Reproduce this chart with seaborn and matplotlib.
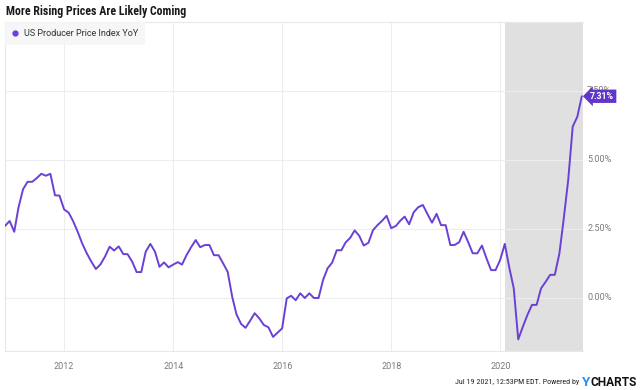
import numpy as np
import pandas as pd
import matplotlib
matplotlib.use("Agg")
import matplotlib.pyplot as plt
import matplotlib.transforms as mtransforms
from matplotlib.lines import Line2D
import seaborn as sns

# ---------------- data ----------------
title = "More Rising Prices Are Likely Coming"
series_name = "US Producer Price Index YoY"
first_month_end = "2010-11-30"
ppi_yoy = [
    2.61, 2.79, 2.40, 3.27, 3.94, 4.21, 4.21, 4.34, 4.50, 4.43, 4.50, 3.72,
    3.71, 3.21, 3.09, 2.79, 2.40, 1.98, 1.62, 1.32, 1.05, 1.22, 1.50, 1.86,
    1.72, 1.87, 1.59, 1.59, 1.32, 0.94, 0.94, 1.68, 1.96, 1.68, 1.13, 1.29,
    1.11, 1.21, 1.30, 1.21, 1.56, 1.84, 2.10, 1.84, 1.92, 1.92, 1.55, 1.55,
    1.26, 0.95, 0.03, -0.59, -0.94, -1.08, -0.82, -0.55, -0.74, -0.98, -1.06, -1.41,
    -1.26, -1.10, -0.01, 0.08, -0.08, 0.17, 0.00, 0.17, 0.00, 0.00, 0.65, 1.08,
    1.28, 1.73, 1.73, 2.01, 2.18, 2.45, 2.25, 1.90, 2.00, 2.46, 2.64, 2.80,
    2.98, 2.53, 2.61, 2.79, 2.95, 2.67, 3.11, 3.29, 3.37, 3.04, 2.73, 3.05,
    2.64, 2.64, 1.92, 1.92, 2.02, 2.40, 2.02, 1.62, 1.62, 1.90, 1.44, 1.01,
    1.01, 1.38, 1.96, 1.13, 0.35, -1.50, -1.04, -0.62, -0.25, -0.25, 0.35, 0.59,
    0.84, 0.84, 1.62, 2.83, 4.28, 6.21, 6.57, 7.31,
]
y_ticks = [0.0, 2.5, 5.0, 7.5]
y_tick_labels = ["0.00%", "2.50%", "5.00%", "7.50%"]
x_tick_years = [2012, 2014, 2016, 2018, 2020]
shade_start = "2020-02-01"
last_label = "7.31%"
footer = "Jul 19 2021, 12:53PM EDT. Powered by "

dates = pd.date_range(start=first_month_end, periods=len(ppi_yoy), freq="ME")
df = pd.DataFrame({"date": dates, "value": ppi_yoy})

# ---------------- style ----------------
sns.set_theme(style="white")
plt.rcParams["font.family"] = ["Roboto", "DejaVu Sans"]

LINE = "#6b40d6"
BADGE = "#6236c9"
GRID = "#ededed"
TICK = "#7a7a7a"

fig = plt.figure(figsize=(6.4, 3.9), dpi=100)
ax = fig.add_axes([5 / 640, 39 / 390, 578 / 640, 329 / 390])

x_left = pd.Timestamp("2010-11-30")
x_right = pd.Timestamp("2021-07-08")

ax.axvspan(pd.Timestamp(shade_start), x_right, color="#e0e0e0", lw=0, zorder=0)
sns.lineplot(data=df, x="date", y="value", ax=ax, color=LINE, lw=1.4,
             zorder=3, legend=False)

ax.set_xlim(x_left, x_right)
ax.set_ylim(-1.92, 10.0)

ax.set_xticks([pd.Timestamp(f"{y}-01-01") for y in x_tick_years])
ax.set_xticklabels([str(y) for y in x_tick_years])
ax.set_yticks(y_ticks)
ax.set_yticklabels(y_tick_labels)
ax.yaxis.tick_right()
ax.set_xlabel("")
ax.set_ylabel("")

ax.grid(True, color=GRID, lw=0.8, zorder=0)
ax.set_axisbelow(True)
ax.tick_params(axis="x", length=0, pad=8, labelsize=6.5, labelcolor=TICK)
ax.tick_params(axis="y", length=0, pad=3, labelsize=6.5, labelcolor=TICK)
for lbl in ax.get_yticklabels():
    lbl.set_transform(lbl.get_transform() +
                      mtransforms.ScaledTranslation(0, 2 / 100, fig.dpi_scale_trans))

for side in ["left", "top", "bottom"]:
    ax.spines[side].set_color("#e8e8e8")
    ax.spines[side].set_linewidth(0.8)
ax.spines["right"].set_visible(False)

# legend
handle = Line2D([], [], color=LINE, marker="o", markersize=3.5, lw=0)
leg = ax.legend([handle], [series_name], loc="upper left", bbox_to_anchor=(0, 1),
                borderaxespad=0, frameon=True, fancybox=False, fontsize=6.5,
                handlelength=0.8, handletextpad=0.6, borderpad=0.75,
                labelcolor="#333333")
leg.get_frame().set_facecolor("#f6f6f6")
leg.get_frame().set_edgecolor("none")
leg.get_frame().set_alpha(0.9)

# last value badge
ax.annotate(last_label, xy=(df["date"].iloc[-1], df["value"].iloc[-1]),
            xytext=(6, 0), textcoords="offset points", ha="left", va="center",
            color="white", fontsize=6.3, fontweight="bold",
            bbox=dict(boxstyle="larrow,pad=0.25", fc=BADGE, ec="none"),
            annotation_clip=False, zorder=6)

# title
fig.text(6 / 640, 1 - 11 / 390, title, fontsize=8.6, fontweight="bold",
         color="#1a1a1a", va="center", ha="left",
         family=["Roboto Condensed", "Roboto", "DejaVu Sans"])

# footer
fy = 1 - 382 / 390
fig.text(637 / 640, fy, "CHARTS", ha="right", va="center", fontsize=8.6,
         fontweight="bold", color="#111111")
fig.text(590 / 640, fy, "Y", ha="right", va="center", fontsize=9.5,
         fontweight="bold", color="#1e90ff")
fig.text(581 / 640, fy, footer, ha="right", va="center", fontsize=5.8,
         color="#222222", family=["Roboto Condensed", "Roboto", "DejaVu Sans"])

fig.savefig("out.png", dpi=100, facecolor="white")
